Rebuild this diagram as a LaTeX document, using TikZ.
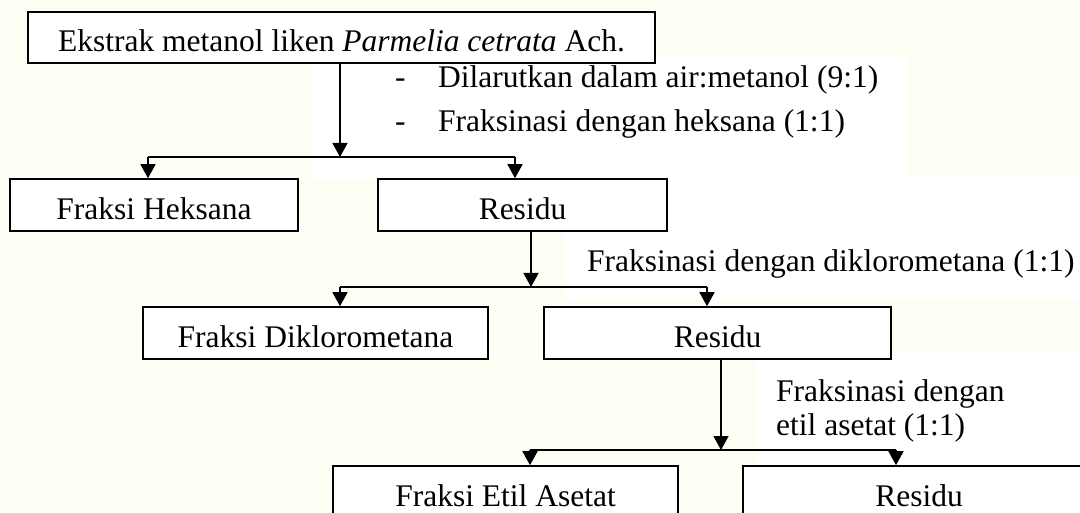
\documentclass[tikz,border=0pt]{standalone}
\usepackage{fontspec}
\setmainfont{Liberation Serif}
\usetikzlibrary{arrows.meta}
\definecolor{cream}{RGB}{255,254,244}
\newcommand\diafont{\fontsize{31.5pt}{38pt}\selectfont}
\begin{document}
\begin{tikzpicture}[x=1pt,y=-1pt,
  box/.style={draw, line width=1.6pt, fill=white, inner sep=0pt,
              text height=29pt, text depth=0pt, font=\diafont},
  lab/.style={inner sep=0pt, font=\diafont},
  ln/.style={line width=1.6pt},
  arr/.style={line width=1.6pt, -{Triangle[width=15pt,length=14pt]}}]
\useasboundingbox (0,0) rectangle (1080,513);
\clip (0,0) rectangle (1080,513);
\fill[cream] (0,0) rectangle (1080,513);
% white patches behind the labels
\fill[white] (312,58) rectangle (908,180);
\fill[white] (565,178) rectangle (1080,300);
\fill[white] (757,353) rectangle (1080,470);

% boxes
\node[box, minimum width=627pt, minimum height=51pt] (E) at (341.5,37.5)
  {Ekstrak metanol liken \textit{Parmelia cetrata} Ach.};
\node[box, minimum width=288pt, minimum height=52pt] (FH) at (154,205) {Fraksi Heksana};
\node[box, minimum width=289pt, minimum height=52pt] (R1) at (522.5,205) {Residu};
\node[box, minimum width=345pt, minimum height=52pt] (FD) at (315.5,333) {Fraksi Diklorometana};
\node[box, minimum width=347pt, minimum height=52pt] (R2) at (717.5,333) {Residu};
\node[box, minimum width=345pt, minimum height=52pt] (FE) at (505.5,492) {Fraksi Etil Asetat};
\node[box, minimum width=352pt, minimum height=52pt] (R3) at (919,492) {Residu};

% junctions
\coordinate (j1) at (340,157);
\coordinate (j1l) at (148,157);
\coordinate (j1r) at (515,157);
\coordinate (j2) at (531,287);
\coordinate (j2l) at (340,287);
\coordinate (j2r) at (707,287);
\coordinate (j3) at (721,450);
\coordinate (j3l) at (530,450);
\coordinate (j3r) at (896,450);

% connectors
\draw[arr] (E.south -| j1) -- (j1);
\draw[ln] (j1l) -- (j1r);
\draw[arr] (j1l) -- (FH.north -| j1l);
\draw[arr] (j1r) -- (R1.north -| j1r);

\draw[arr] (R1.south -| j2) -- (j2);
\draw[ln] (j2l) -- (j2r);
\draw[arr] (j2l) -- (FD.north -| j2l);
\draw[arr] (j2r) -- (R2.north -| j2r);

\draw[arr] (R2.south -| j3) -- (j3);
\draw[ln] (j3l) -- (j3r);
\draw[arr] (j3l) -- (FE.north -| j3l);
\draw[arr] (j3r) -- (R3.north -| j3r);

% labels
\node[lab, anchor=base west, font=\fontsize{31.5pt}{44pt}\selectfont] (L1) at (395,88)
  {\begin{tabular}[t]{@{}p{43pt}@{}l@{}}-&Dilarutkan dalam air:metanol (9:1)\\
   -&Fraksinasi dengan heksana (1:1)\end{tabular}};
\node[lab, anchor=base west] (L2) at (587,272) {Fraksinasi dengan diklorometana (1:1)};
\node[lab, anchor=base west, font=\fontsize{31.5pt}{35pt}\selectfont] (L3) at (776,401)
  {\begin{tabular}[t]{@{}l@{}}Fraksinasi dengan\\etil asetat (1:1)\end{tabular}};
\end{tikzpicture}
\end{document}
